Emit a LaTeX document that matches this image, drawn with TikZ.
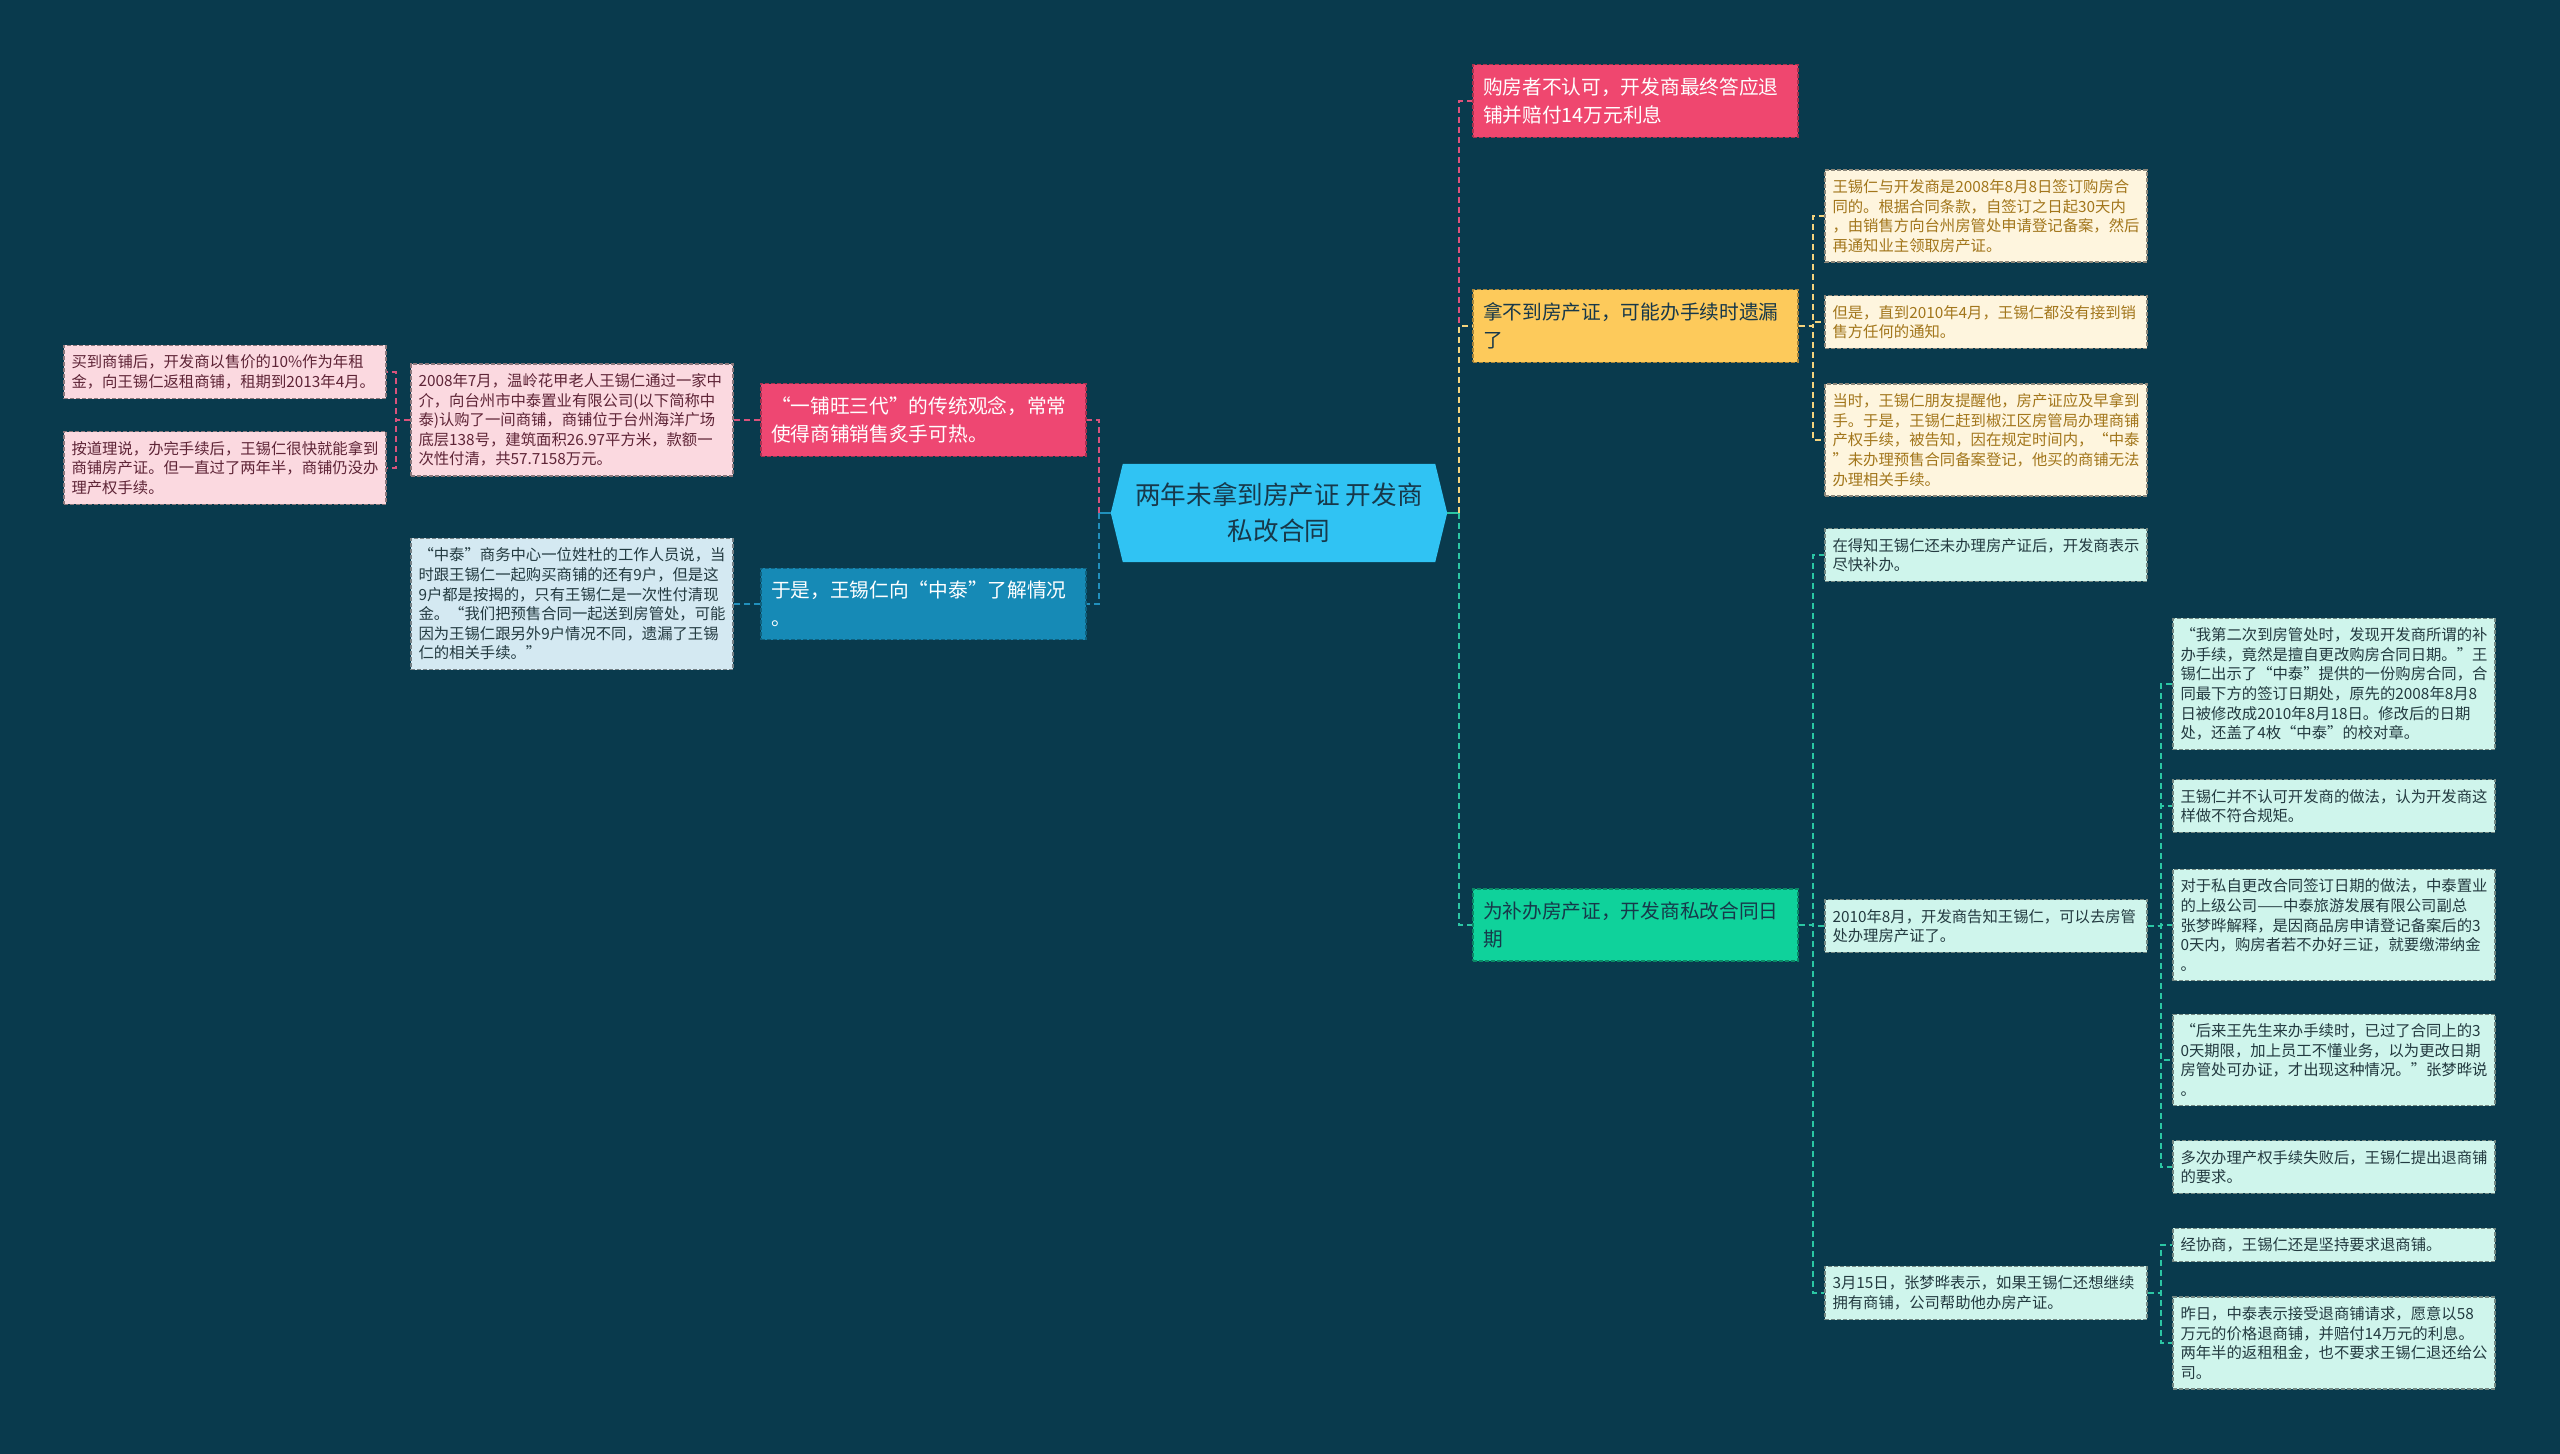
\documentclass[tikz,border=0pt]{standalone}
\usepackage{fontspec}
\setmainfont{Noto Sans CJK SC}
\usepackage{tikz}
\usetikzlibrary{positioning,backgrounds}
\definecolor{MapBg}{HTML}{093A4D}
\definecolor{RootBlue}{HTML}{30C3F3}
\definecolor{RootInk}{HTML}{17384A}
\definecolor{RedMain}{HTML}{EF476F}
\definecolor{GoldMain}{HTML}{FDCA5B}
\definecolor{MintMain}{HTML}{0FD29B}
\definecolor{PinkMain}{HTML}{EE4772}
\definecolor{SeaMain}{HTML}{168AB6}
\definecolor{GoldLeaf}{HTML}{FEF5DE}
\definecolor{MintLeaf}{HTML}{CFF5EC}
\definecolor{PinkLeaf}{HTML}{FBD9E0}
\definecolor{SeaLeaf}{HTML}{D4E9F2}
\definecolor{GoldInk}{HTML}{A2761B}
\definecolor{DarkInk}{HTML}{233A40}
\definecolor{PinkInk}{HTML}{5E2436}
\definecolor{RedLine}{HTML}{E0527A}
\definecolor{GoldLine}{HTML}{F4D47E}
\definecolor{MintLine}{HTML}{2BC6A4}
\definecolor{PinkLine}{HTML}{D9537C}
\definecolor{SeaLine}{HTML}{2190BC}

\begin{document}
\begin{tikzpicture}[x=1pt, y=-1pt, every node/.style={font=\fontsize{15.35}{19.6}\selectfont}, box/.style={draw,dash pattern=on 4pt off 2pt,line width=1.2pt}, main/.style={box,align=left,text width=305pt,inner xsep=10pt,inner ysep=13pt,font=\fontsize{19.7}{27.8}\selectfont}, leaf/.style={box,align=left,text width=307pt,inner xsep=7.5pt,inner ysep=9.5pt}, gold/.style={leaf,fill=GoldLeaf,draw=GoldLeaf!55!black,text=GoldInk}, mint/.style={leaf,fill=MintLeaf,draw=MintLeaf!55!black,text=DarkInk}, pink/.style={leaf,fill=PinkLeaf,draw=PinkLeaf!55!black,text=PinkInk}, sea/.style={leaf,fill=SeaLeaf,draw=SeaLeaf!55!black,text=DarkInk}, ln/.style={line width=2pt,dash pattern=on 6pt off 4pt}]
\node[inner sep=0,minimum width=312pt,minimum height=98pt,align=center,text=RootInk,font=\fontsize{25.6}{36}\selectfont] (root) at (1279,513) {两年未拿到房产证 开发商\\私改合同};
\begin{scope}[on background layer]
\fill[MapBg] (0,0) rectangle (2560,1454);
\fill[RootBlue] ([xshift=-12pt]root.west) -- (root.north west) -- (root.north east) -- ([xshift=12pt]root.east) -- (root.south east) -- (root.south west) -- cycle;
\end{scope}

\node[main,fill=RedMain,draw=RedMain!70!black,text=white] (buyer) at (1635.5,101) {购房者不认可，开发商最终答应退\\铺并赔付14万元利息};
\node[main,fill=GoldMain,draw=GoldMain!65!black,text=RootInk] (nocert) at (1635.5,326) {拿不到房产证，可能办手续时遗漏\\了};
\node[main,fill=MintMain,draw=MintMain!65!black,text=RootInk] (redate) at (1635.5,925) {为补办房产证，开发商私改合同日\\期};
\node[main,fill=PinkMain,draw=PinkMain!70!black,text=white] (legacy) at (923.5,420) {“一铺旺三代”的传统观念，常常\\使得商铺销售炙手可热。};
\node[main,fill=SeaMain,draw=SeaMain!70!black,text=white] (inquire) at (923.5,604) {于是，王锡仁向“中泰”了解情况\\。};

\node[gold] (sign) at (1986,216) {王锡仁与开发商是2008年8月8日签订购房合\\同的。根据合同条款，自签订之日起30天内\\，由销售方向台州房管处申请登记备案，然后\\再通知业主领取房产证。};
\node[gold] (notice) at (1986,322) {但是，直到2010年4月，王锡仁都没有接到销\\售方任何的通知。};
\node[gold] (visit) at (1986,440) {当时，王锡仁朋友提醒他，房产证应及早拿到\\手。于是，王锡仁赶到椒江区房管局办理商铺\\产权手续，被告知，因在规定时间内，“中泰\\”未办理预售合同备案登记，他买的商铺无法\\办理相关手续。};

\node[mint] (promise) at (1986,555) {在得知王锡仁还未办理房产证后，开发商表示\\尽快补办。};
\node[mint] (aug) at (1986,926) {2010年8月，开发商告知王锡仁，可以去房管\\处办理房产证了。};
\node[mint] (mar) at (1986,1293) {3月15日，张梦晔表示，如果王锡仁还想继续\\拥有商铺，公司帮助他办房产证。};

\node[mint] (second) at (2334,684) {“我第二次到房管处时，发现开发商所谓的补\\办手续，竟然是擅自更改购房合同日期。”王\\锡仁出示了“中泰”提供的一份购房合同，合\\同最下方的签订日期处，原先的2008年8月8\\日被修改成2010年8月18日。修改后的日期\\处，还盖了4枚“中泰”的校对章。};
\node[mint] (disagree) at (2334,806) {王锡仁并不认可开发商的做法，认为开发商这\\样做不符合规矩。};
\node[mint] (explain) at (2334,925) {对于私自更改合同签订日期的做法，中泰置业\\的上级公司——中泰旅游发展有限公司副总\\张梦晔解释，是因商品房申请登记备案后的3\\0天内，购房者若不办好三证，就要缴滞纳金\\。};
\node[mint] (later) at (2334,1060) {“后来王先生来办手续时，已过了合同上的3\\0天期限，加上员工不懂业务，以为更改日期\\房管处可办证，才出现这种情况。”张梦晔说\\。};
\node[mint] (refund) at (2334,1167) {多次办理产权手续失败后，王锡仁提出退商铺\\的要求。};
\node[mint] (talks) at (2334,1245) {经协商，王锡仁还是坚持要求退商铺。};
\node[mint] (accept) at (2334,1343) {昨日，中泰表示接受退商铺请求，愿意以58\\万元的价格退商铺，并赔付14万元的利息。\\两年半的返租租金，也不要求王锡仁退还给公\\司。};

\node[pink] (buy) at (572,420) {2008年7月，温岭花甲老人王锡仁通过一家中\\介，向台州市中泰置业有限公司(以下简称中\\泰)认购了一间商铺，商铺位于台州海洋广场\\底层138号，建筑面积26.97平方米，款额一\\次性付清，共57.7158万元。};
\node[pink] (rent) at (225,372) {买到商铺后，开发商以售价的10\%作为年租\\金，向王锡仁返租商铺，租期到2013年4月。};
\node[pink] (delay) at (225,468) {按道理说，办完手续后，王锡仁很快就能拿到\\商铺房产证。但一直过了两年半，商铺仍没办\\理产权手续。};
\node[sea] (staff) at (572,604) {“中泰”商务中心一位姓杜的工作人员说，当\\时跟王锡仁一起购买商铺的还有9户，但是这\\9户都是按揭的，只有王锡仁是一次性付清现\\金。“我们把预售合同一起送到房管处，可能\\因为王锡仁跟另外9户情况不同，遗漏了王锡\\仁的相关手续。”};

\coordinate (rbus) at (1459,513);
\coordinate (lbus) at (1099,513);
\draw[line width=2pt,MintLine] ([xshift=12pt]root.east) -- (rbus);
\draw[line width=2pt,SeaLine] ([xshift=-12pt]root.west) -- (lbus);
\draw[ln,RedLine] (rbus) |- (buyer.west);
\draw[ln,GoldLine] (rbus) |- (nocert.west);
\draw[ln,MintLine] (rbus) |- (redate.west);
\draw[ln,PinkLine] (lbus) |- (legacy.east);
\draw[ln,SeaLine] (lbus) |- (inquire.east);
\foreach \k in {sign,notice,visit}
  \draw[ln,GoldLine] (nocert.east) -- ++(14,0) |- (\k.west);
\foreach \k in {promise,aug,mar}
  \draw[ln,MintLine] (redate.east) -- ++(14,0) |- (\k.west);
\foreach \k in {second,disagree,explain,later,refund}
  \draw[ln,MintLine] (aug.east) -- ++(13,0) |- (\k.west);
\foreach \k in {talks,accept}
  \draw[ln,MintLine] (mar.east) -- ++(13,0) |- (\k.west);
\draw[ln,PinkLine] (legacy.west) -- (buy.east);
\draw[ln,SeaLine] (inquire.west) -- (staff.east);
\foreach \k in {rent,delay}
  \draw[ln,PinkLine] (buy.west) -- ++(-14,0) |- (\k.east);
\end{tikzpicture}
\end{document}
